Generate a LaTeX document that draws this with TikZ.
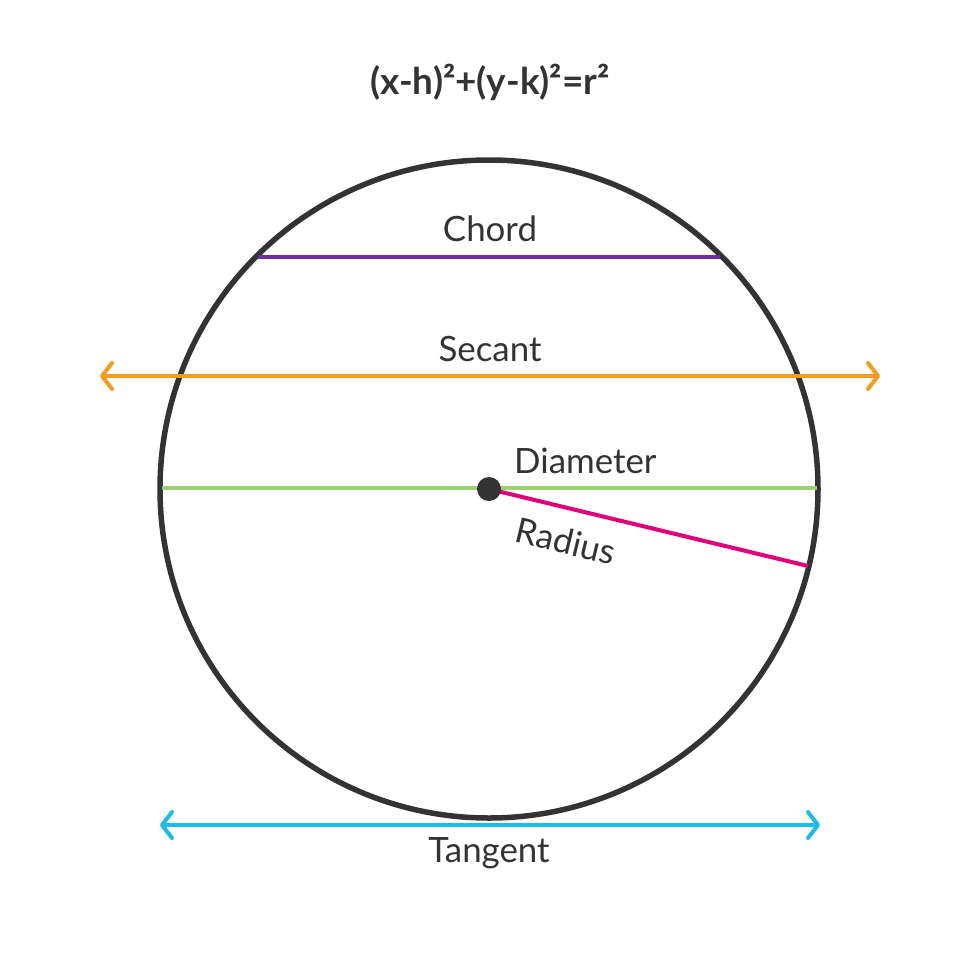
\documentclass[tikz,border=0pt]{standalone}
\usepackage{fontspec}
\setmainfont{Lato}
\usetikzlibrary{arrows.meta}

\definecolor{inkgray}{HTML}{333333}
\definecolor{chordpurple}{HTML}{6E2F9E}
\definecolor{secantorange}{HTML}{F39C1F}
\definecolor{diamgreen}{HTML}{9BD36A}
\definecolor{radmagenta}{HTML}{E2007A}
\definecolor{tanblue}{HTML}{1CBCEA}

\tikzstyle{lbl} = [font=\fontsize{35}{40}\selectfont, text=inkgray, inner sep=0pt]
\tikzstyle{seg} = [line width=4bp]
\tikzstyle{arrow} = [line width=4bp, line cap=round, line join=round, {Straight Barb[length=10bp,width=26bp,line cap=round,line join=round]}-{Straight Barb[length=10bp,width=26bp,line cap=round,line join=round]}]

\begin{document}
\begin{tikzpicture}[x=1bp,y=-1bp]
\useasboundingbox (0,0) rectangle (980,980);

\coordinate (centre) at (489,489);
\draw [inkgray, line width=5.5bp] (centre) circle (329);

% chord
\coordinate (chordL) at (258,257);
\coordinate (chordR) at (720,257);
\draw [seg, chordpurple] (chordL) -- (chordR);
\node (chord) [lbl] at (490,229) {Chord};

% secant
\coordinate (secL) at (100,376);
\coordinate (secR) at (880,376);
\draw [arrow, secantorange] (secL) -- (secR);
\node (secant) [lbl] at (490,349) {Secant};

% diameter
\coordinate (diamL) at (162,488);
\coordinate (diamR) at (817,488);
\draw [seg, diamgreen] (diamL) -- (diamR);
\node (diameter) [lbl, anchor=west] at (514,461) {Diameter};

% radius
\coordinate (radEnd) at (808,566);
\draw [seg, radmagenta] (centre) -- (radEnd);
\node (radius) [lbl, rotate=-13.6] at (566,541) {Radius};
\fill [inkgray] (centre) circle (12);

% tangent
\coordinate (tanL) at (160,825);
\coordinate (tanR) at (820,825);
\draw [arrow, tanblue] (tanL) -- (tanR);
\node (tangent) [lbl] at (489,853) {Tangent};

% equation
\node (equation) [lbl, font=\bfseries\fontsize{37}{42}\selectfont] at (490,82) {(x-h)²+(y-k)²=r²};
\end{tikzpicture}
\end{document}
